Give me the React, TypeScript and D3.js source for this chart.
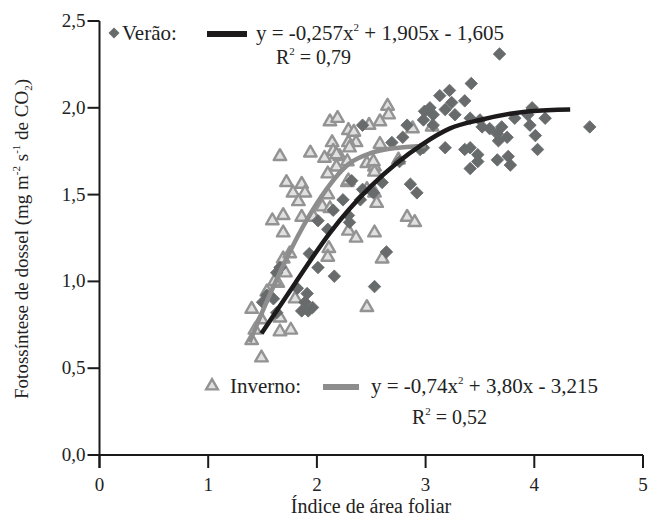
import React from "react";
import * as d3 from "d3";

// leaf area index (x) vs canopy photosynthesis (y)
const veraoPoints: [number, number][] = [
  [3.68, 2.31], [3.42, 2.14], [3.22, 2.1], [3.13, 2.07], [3.24, 2.03], [3.36, 2.04],
  [3.18, 1.99], [3.27, 1.96], [3.07, 1.96], [3.41, 1.94], [3.5, 1.93], [3.52, 1.89],
  [3.59, 1.88], [3.66, 1.85], [3.7, 1.89], [3.75, 1.83], [3.67, 1.81], [3.82, 1.94],
  [3.94, 1.96], [3.98, 2.0], [4.1, 1.94], [3.96, 1.9], [4.01, 1.84], [4.51, 1.89],
  [3.18, 1.77], [3.36, 1.76], [3.41, 1.77], [3.48, 1.73], [3.48, 1.69], [3.41, 1.65],
  [3.66, 1.7], [3.76, 1.72], [3.78, 1.67], [4.03, 1.76], [2.99, 1.98], [3.04, 2.0],
  [2.98, 1.93], [2.83, 1.9], [2.79, 1.83], [2.69, 1.8], [2.42, 1.9], [2.98, 1.77],
  [2.76, 1.69], [2.86, 1.56], [2.92, 1.51], [2.6, 1.57], [2.52, 1.51], [2.42, 1.53],
  [2.32, 1.58], [2.4, 1.47], [2.24, 1.47], [2.15, 1.41], [2.29, 1.38], [2.3, 1.34],
  [1.93, 1.16], [2.01, 1.08], [2.16, 1.03], [2.64, 1.17], [2.53, 0.97], [1.91, 0.93],
  [1.89, 0.88], [1.92, 0.83], [1.86, 0.83], [1.96, 0.85], [1.82, 0.96], [1.63, 1.05],
  [1.54, 0.92], [1.5, 0.88], [1.6, 0.9], [1.63, 0.82], [2.1, 1.3], [2.01, 1.35],
  [1.66, 1.08], [2.95, 1.76], [3.07, 1.9],
];

const invernoPoints: [number, number][] = [
  [1.66, 1.72], [1.94, 1.74], [2.12, 1.92], [2.19, 1.94], [2.29, 1.87], [2.34, 1.86],
  [2.36, 1.8], [2.29, 1.8], [2.48, 1.9], [2.58, 1.92], [2.65, 2.01], [2.66, 1.96],
  [2.14, 1.8], [2.15, 1.75], [2.07, 1.71], [2.21, 1.72], [2.28, 1.69], [2.18, 1.66],
  [2.1, 1.62], [2.46, 1.68], [2.53, 1.66], [2.58, 1.79], [2.75, 1.7], [2.88, 1.88],
  [3.06, 1.89], [1.72, 1.57], [1.86, 1.56], [1.78, 1.51], [1.89, 1.51], [1.83, 1.46],
  [2.28, 1.57], [2.1, 1.5], [2.53, 1.51], [2.55, 1.45], [2.05, 1.43], [2.12, 1.42],
  [1.59, 1.35], [1.69, 1.38], [1.86, 1.37], [1.97, 1.37], [1.69, 1.28], [2.29, 1.29],
  [2.36, 1.25], [2.53, 1.28], [2.83, 1.37], [2.9, 1.34], [2.11, 1.19], [2.1, 1.14],
  [2.6, 1.13], [1.71, 1.05], [1.64, 0.99], [1.54, 0.94], [1.8, 0.9], [1.4, 0.84],
  [1.66, 0.79], [2.46, 0.85], [1.49, 0.78], [1.66, 0.71], [1.76, 0.72], [1.4, 0.66],
  [1.49, 0.56], [1.69, 1.13], [1.61, 1.0], [2.3, 1.77], [2.52, 1.69], [2.46, 1.53],
  [2.29, 1.58], [2.18, 1.73], [2.53, 1.63], [1.43, 0.72], [1.75, 1.16],
];

// fitted curves as drawn
const veraoFit: [number, number][] = [
  [1.49, 0.7], [1.8, 0.99], [2.12, 1.28], [2.5, 1.55], [2.97, 1.79], [3.22, 1.88],
  [3.5, 1.93], [3.96, 1.98], [4.33, 1.99],
];
const invernoFit: [number, number][] = [
  [1.38, 0.65], [1.55, 0.9], [1.75, 1.17], [2.0, 1.45], [2.3, 1.68], [2.5, 1.74],
  [2.75, 1.77], [3.0, 1.78],
];

const xTicks = [0, 1, 2, 3, 4, 5];
const yTicks = [0, 0.5, 1, 1.5, 2, 2.5];
const yTickLabels = ["0,0", "0,5", "1,0", "1,5", "2,0", "2,5"];

const font = "'Liberation Serif', 'Times New Roman', serif";
const diamondColor = "#686b6b";
const triFill = "#e0e0e0";
const triStroke = "#939393";
const winterLine = "#8d8d8d";
const summerLine = "#1c1a1a";

export default function App() {
  const x = d3.scaleLinear().domain([0, 5]).range([99.5, 643]);
  const y = d3.scaleLinear().domain([0, 2.5]).range([455, 21]);

  const diamond = d3.symbol(d3.symbolSquare, 78)()!;
  const triangle = d3.symbol(d3.symbolTriangle, 68)()!;

  const line = d3
    .line<[number, number]>()
    .x((d) => x(d[0]))
    .y((d) => y(d[1]))
    .curve(d3.curveMonotoneX);

  return (
    <svg
      width={651}
      height={520}
      style={{ position: "absolute", left: 0, top: 0, background: "#fff" }}
      fontFamily={font}
    >
      {/* points */}
      <g>
        {invernoPoints.map((d, i) => (
          <path
            key={"t" + i}
            d={triangle}
            transform={`translate(${x(d[0])},${y(d[1])})`}
            fill={triFill}
            stroke={triStroke}
            strokeWidth={2.4}
            strokeLinejoin="round"
          />
        ))}
      </g>
      <g>
        {veraoPoints.map((d, i) => (
          <path
            key={"d" + i}
            d={diamond}
            transform={`translate(${x(d[0])},${y(d[1])}) rotate(45)`}
            fill={diamondColor}
            stroke={diamondColor}
            strokeWidth={0.8}
            strokeLinejoin="round"
          />
        ))}
      </g>
      <path d={line(invernoFit)!} fill="none" stroke={winterLine} strokeWidth={4.5} />
      <path d={line(veraoFit)!} fill="none" stroke={summerLine} strokeWidth={4.5} />

      {/* axes */}
      <g stroke="#1a1a1a" strokeWidth={2}>
        <line x1={x(0)} x2={x(0)} y1={y(2.5)} y2={y(0) + 13} />
        <line x1={x(0)} x2={x(5)} y1={y(0)} y2={y(0)} />
        {xTicks.map((t) => (
          <line key={"xt" + t} x1={x(t)} x2={x(t)} y1={y(0)} y2={y(0) + 13} />
        ))}
        {yTicks.map((t) => (
          <line key={"yt" + t} x1={x(0) - 12} x2={x(0)} y1={y(t)} y2={y(t)} />
        ))}
      </g>
      <g fontSize={19} fill="#222">
        {xTicks.map((t) => (
          <text key={"xl" + t} x={x(t)} y={y(0) + 36} textAnchor="middle">
            {t}
          </text>
        ))}
        {yTicks.map((t, i) => (
          <text key={"yl" + t} x={x(0) - 14} y={y(t) + 6} textAnchor="end">
            {yTickLabels[i]}
          </text>
        ))}
      </g>
      <text x={371} y={513} fontSize={20} textAnchor="middle" fill="#222">
        Índice de área foliar
      </text>
      <text
        transform="translate(28,239) rotate(-90)"
        fontSize={19}
        textAnchor="middle"
        fill="#222"
      >
        Fotossíntese de dossel (mg m
        <tspan fontSize={11} dy={-8}>-2</tspan>
        <tspan dy={8}> s</tspan>
        <tspan fontSize={11} dy={-8}>-1</tspan>
        <tspan dy={8}> de CO</tspan>
        <tspan fontSize={11} dy={4}>2</tspan>
        <tspan dy={-4}>)</tspan>
      </text>

      {/* summer legend */}
      <g fontSize={21} fill="#222">
        <path d={d3.symbol(d3.symbolSquare, 60)()!} transform="translate(114,33) rotate(45)" fill={diamondColor} />
        <text x={122} y={40}>Verão:</text>
        <line x1={207} x2={247} y1={34} y2={34} stroke={summerLine} strokeWidth={6} />
        <text x={256} y={40}>
          y = -0,257x<tspan fontSize={11} dy={-9}>2</tspan>
          <tspan dy={9}> + 1,905x - 1,605</tspan>
        </text>
        <text x={276} y={64} fontSize={20}>
          R<tspan fontSize={11} dy={-9}>2</tspan>
          <tspan dy={9}> = 0,79</tspan>
        </text>
      </g>

      {/* winter legend */}
      <g fontSize={21} fill="#222">
        <path
          d={d3.symbol(d3.symbolTriangle, 60)()!}
          transform="translate(212,386)"
          fill={triFill}
          stroke={triStroke}
          strokeWidth={2.4}
        />
        <text x={230} y={393}>Inverno:</text>
        <line x1={323} x2={359} y1={387} y2={387} stroke={winterLine} strokeWidth={6} />
        <text x={371} y={393}>
          y = -0,74x<tspan fontSize={11} dy={-9}>2</tspan>
          <tspan dy={9}> + 3,80x - 3,215</tspan>
        </text>
        <text x={412} y={424} fontSize={20}>
          R<tspan fontSize={11} dy={-9}>2</tspan>
          <tspan dy={9}> = 0,52</tspan>
        </text>
      </g>
    </svg>
  );
}
